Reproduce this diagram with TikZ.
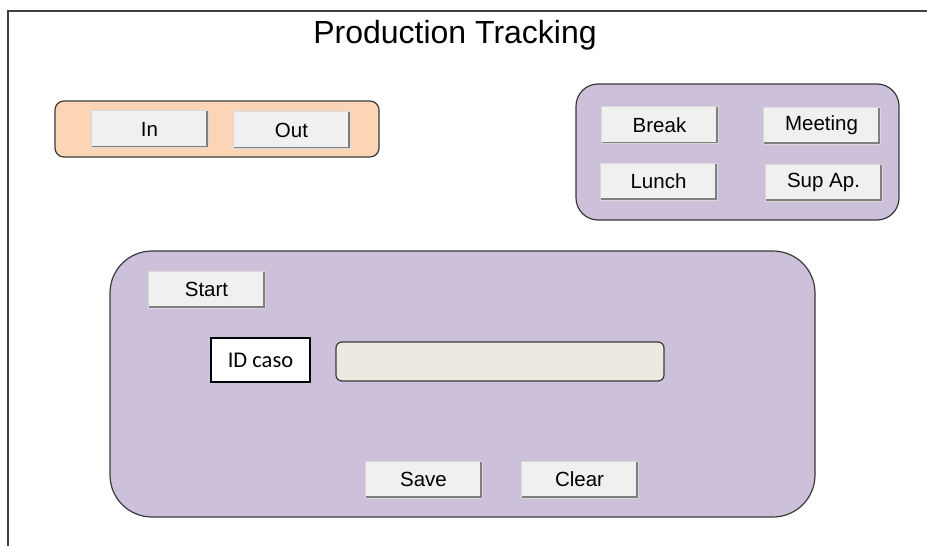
\documentclass[tikz,border=0pt]{standalone}
\usepackage{fontspec}
\setmainfont{Liberation Sans}
\newfontfamily\calib{Carlito}
\definecolor{framegray}{HTML}{404040}
\definecolor{peach}{HTML}{FBD5B5}
\definecolor{lilac}{HTML}{CCC0DA}
\definecolor{btnface}{HTML}{F0F0F0}
\definecolor{btnshade}{HTML}{7F7F7F}
\definecolor{btnlight}{HTML}{D8D8D8}
\definecolor{fieldfill}{HTML}{ECEAE0}
\definecolor{edgegray}{HTML}{3A3A3A}
\tikzset{
  panel/.style={draw=edgegray, line width=1.2pt},
  btn/.style={fill=btnface, draw=btnlight, line width=0.6pt,
    minimum width=117pt, minimum height=37pt, inner sep=0pt,
    font=\fontsize{20.5}{24}\selectfont,
    path picture={
      \draw[btnshade, line width=4pt]
        (path picture bounding box.south west) --
        (path picture bounding box.south east) --
        (path picture bounding box.north east);
    }},
}
\begin{document}
\begin{tikzpicture}[x=1pt, y=-1pt]
  \useasboundingbox (0,0) rectangle (927,546);
  \fill[white] (0,0) rectangle (927,546);
  % window frame (open at right and bottom)
  \draw[framegray, line width=2pt] (8,546) -- (8,11) -- (927,11);
  % title
  \node[font=\fontsize{32}{36}\selectfont] (title) at (455,35) {Production Tracking};

  % clock in / out panel
  \draw[panel, fill=peach, rounded corners=9pt] (55,101) rectangle (379,157);
  \node[btn] (in)  at (149.5,129) {In};
  \node[btn] (out) at (291.5,130) {Out};

  % status panel
  \draw[panel, fill=lilac, rounded corners=22pt] (576,84) rectangle (899,220);
  \node[btn] (break)   at (659.5,125) {Break};
  \node[btn] (meeting) at (821.5,125.5) {Meeting};
  \node[btn] (lunch)   at (658.5,181.5) {Lunch};
  \node[btn] (supap)   at (823.5,182.5) {Sup Ap.};

  % case entry panel
  \draw[panel, fill=lilac, rounded corners=42pt] (110,251) rectangle (815,517);
  \node[btn] (start) at (206.5,289.5) {Start};
  \node[draw=black, fill=white, line width=1.2pt, minimum width=99pt,
        minimum height=44pt, inner sep=0pt,
        font=\calib\fontsize{22.5}{26}\selectfont] (idcaso) at (260.5,360) {ID caso};
  \node[draw=edgegray, fill=fieldfill, line width=1.2pt, rounded corners=6pt,
        minimum width=328pt, minimum height=39pt, inner sep=0pt] (field) at (500,361.5) {};
  \node[btn] (save)  at (423.5,479.5) {Save};
  \node[btn] (clear) at (579.5,479.5) {Clear};
\end{tikzpicture}
\end{document}
